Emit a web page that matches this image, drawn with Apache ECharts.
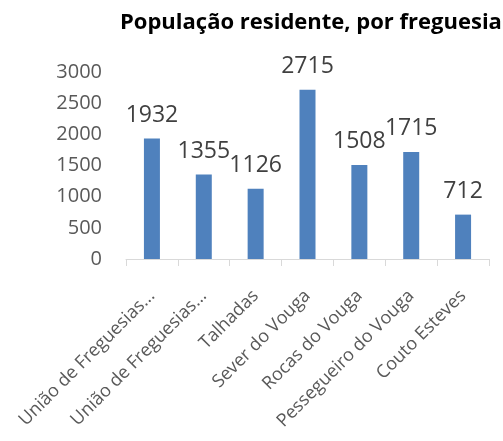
<!DOCTYPE html>
<html>
<head>
<meta charset="utf-8">
<script src="https://cdn.jsdelivr.net/npm/echarts@6/dist/echarts.min.js"></script>
<style>
  html, body { margin: 0; padding: 0; background: #fff; }
  #chart { width: 503px; height: 441px; }
</style>
</head>
<body>
<div id="chart"></div>
<script>
// Population per parish (freguesia)
var freguesias = [
  'União de Freguesias de Cedrim e Paradela',
  'União de Freguesias de Silva Escura e Dornelas',
  'Talhadas',
  'Sever do Vouga',
  'Rocas do Vouga',
  'Pessegueiro do Vouga',
  'Couto Esteves'
];
var populacao = [1932, 1355, 1126, 2715, 1508, 1715, 712];

var chart = echarts.init(document.getElementById('chart'));

chart.setOption({
  animation: false,
  textStyle: { fontFamily: 'Open Sans' },
  title: {
    text: 'População residente, por freguesia',
    left: 115,
    top: 7,
    textStyle: { fontFamily: 'Open Sans', fontWeight: 'bold', fontSize: 22, color: '#000' }
  },
  grid: { left: 126, right: 14, top: 72, bottom: 182 },
  xAxis: {
    type: 'category',
    data: freguesias,
    axisLine: { lineStyle: { color: '#D9D9D9', width: 1 } },
    axisTick: { show: true, length: 7, lineStyle: { color: '#D9D9D9' } },
    axisLabel: {
      rotate: 45,
      interval: 0,
      margin: 34,
      fontSize: 18,
      color: '#595959',
      formatter: function (v) {
        return v.length > 20 ? v.slice(0, 19) + '...' : v;
      }
    }
  },
  yAxis: {
    type: 'value',
    min: 0,
    max: 3000,
    interval: 500,
    splitLine: { show: false },
    axisLine: { show: false },
    axisTick: { show: false },
    axisLabel: {
      fontSize: 20,
      color: '#595959',
      margin: 24,
      formatter: function (v) { return String(v); }
    }
  },
  series: [{
    type: 'bar',
    data: populacao,
    barWidth: 16,
    itemStyle: { color: '#4F81BD' },
    label: {
      show: true,
      position: 'top',
      distance: 12,
      fontSize: 23,
      color: '#404040'
    }
  }]
});
</script>
</body>
</html>
